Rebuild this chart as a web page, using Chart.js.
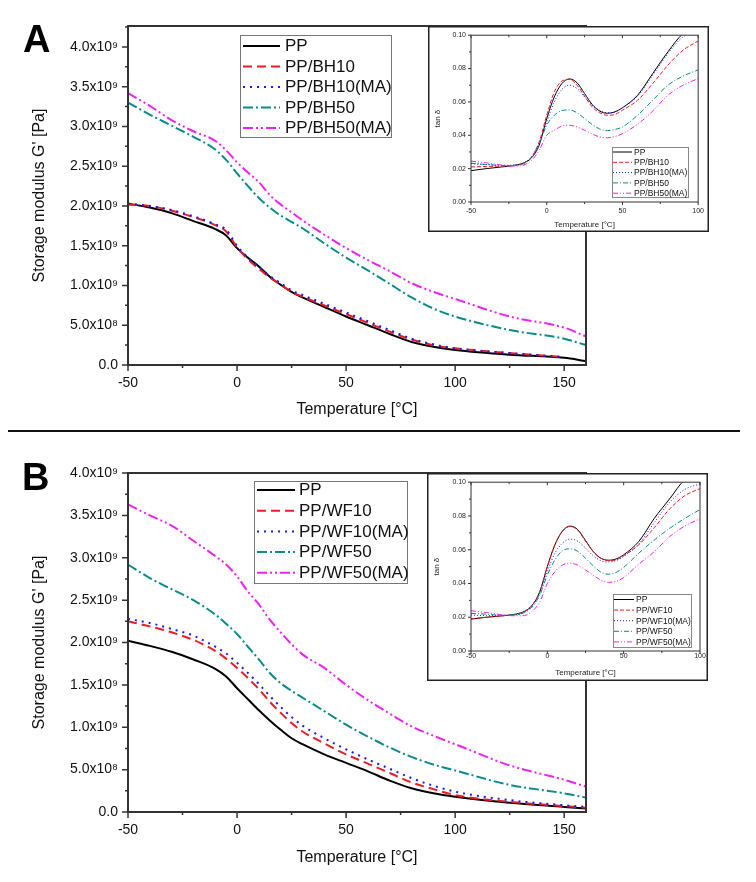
<!DOCTYPE html>
<html>
<head>
<meta charset="utf-8">
<script src="https://cdn.jsdelivr.net/npm/chart.js@4.4.1/dist/chart.umd.min.js"></script>
<style>
  body { margin: 0; background: #fff; }
  #page { position: relative; width: 756px; height: 882px; overflow: hidden; background: #fff; }
  canvas { position: absolute; }
  .panel-label { position: absolute; font: bold 38px Arial, "Liberation Sans", sans-serif; line-height: 38px; color: #000; }
  #divider { position: absolute; left: 8px; top: 430px; width: 732px; height: 2px; background: #111; }
</style>
</head>
<body>
<div id="page">
  <canvas id="mainA" width="756" height="430" style="left:0;top:0"></canvas>
  <canvas id="insetA" width="281" height="206" style="left:428px;top:26px"></canvas>
  <canvas id="mainB" width="756" height="442" style="left:0;top:440px"></canvas>
  <canvas id="insetB" width="281" height="208" style="left:427px;top:473px"></canvas>
  <div class="panel-label" style="left:23px;top:20px">A</div>
  <div class="panel-label" style="left:22px;top:458px">B</div>
  <div id="divider"></div>
</div>
<script>
// storage modulus G' (x10^9 Pa) vs temperature
const tempMain = [-50, -40, -30, -20, -10, -5, 0, 5, 10, 15, 20, 25, 30, 40, 50, 60, 70, 80, 90, 100, 125, 150, 160];

const modA_PP     = [2.03, 1.98, 1.91, 1.81, 1.71, 1.63, 1.47, 1.35, 1.24, 1.11, 1.01, 0.92, 0.85, 0.73, 0.61, 0.50, 0.39, 0.29, 0.23, 0.19, 0.13, 0.09, 0.05];
const modA_BH10   = [2.02, 2.00, 1.94, 1.86, 1.76, 1.68, 1.48, 1.33, 1.21, 1.10, 1.01, 0.92, 0.86, 0.75, 0.64, 0.53, 0.42, 0.32, 0.25, 0.21, 0.15, 0.10, null];
const modA_BH10MA = [2.03, 2.00, 1.95, 1.87, 1.77, 1.70, 1.50, 1.35, 1.23, 1.12, 1.03, 0.94, 0.88, 0.77, 0.66, 0.55, 0.44, 0.33, 0.26, 0.21, 0.15, 0.10, null];
const modA_BH50   = [3.30, 3.15, 3.01, 2.87, 2.71, 2.58, 2.41, 2.25, 2.10, 1.98, 1.88, 1.80, 1.72, 1.53, 1.35, 1.19, 1.02, 0.85, 0.71, 0.61, 0.44, 0.33, 0.25];
const modA_BH50MA = [3.42, 3.26, 3.08, 2.94, 2.82, 2.70, 2.55, 2.42, 2.30, 2.14, 2.02, 1.92, 1.82, 1.64, 1.47, 1.32, 1.18, 1.03, 0.92, 0.83, 0.61, 0.47, 0.36];

const modB_PP     = [2.02, 1.96, 1.89, 1.80, 1.69, 1.60, 1.46, 1.33, 1.20, 1.08, 0.97, 0.87, 0.80, 0.68, 0.58, 0.48, 0.37, 0.28, 0.22, 0.18, 0.11, 0.06, 0.04];
const modB_WF10   = [2.25, 2.19, 2.12, 2.03, 1.90, 1.81, 1.70, 1.58, 1.45, 1.30, 1.17, 1.05, 0.95, 0.81, 0.68, 0.57, 0.46, 0.35, 0.27, 0.20, 0.12, 0.07, 0.05];
const modB_WF10MA = [2.28, 2.23, 2.16, 2.08, 1.95, 1.87, 1.76, 1.64, 1.51, 1.37, 1.24, 1.12, 1.02, 0.87, 0.74, 0.62, 0.51, 0.40, 0.31, 0.24, 0.14, 0.08, 0.06];
const modB_WF50   = [2.92, 2.76, 2.63, 2.50, 2.33, 2.22, 2.10, 1.95, 1.80, 1.64, 1.52, 1.43, 1.35, 1.19, 1.03, 0.89, 0.76, 0.65, 0.56, 0.49, 0.32, 0.22, 0.17];
const modB_WF50MA = [3.63, 3.50, 3.38, 3.20, 3.02, 2.92, 2.78, 2.60, 2.45, 2.27, 2.12, 1.98, 1.86, 1.70, 1.50, 1.32, 1.16, 1.01, 0.90, 0.80, 0.55, 0.38, 0.30];

// tan delta insets
const tempInset = [-50, -40, -30, -20, -15, -10, -5, 0, 5, 10, 15, 20, 25, 30, 35, 40, 45, 50, 60, 70, 80, 90, 100];

const tanA_PP     = [0.0188, 0.0200, 0.0210, 0.0222, 0.0235, 0.0265, 0.0340, 0.0500, 0.0630, 0.0710, 0.0738, 0.0715, 0.0650, 0.0585, 0.0545, 0.0532, 0.0540, 0.0565, 0.0640, 0.0770, 0.0900, 0.1010, 0.1060];
const tanA_BH10   = [0.0210, 0.0213, 0.0215, 0.0220, 0.0235, 0.0270, 0.0360, 0.0520, 0.0660, 0.0725, 0.0735, 0.0700, 0.0635, 0.0570, 0.0535, 0.0520, 0.0525, 0.0550, 0.0610, 0.0710, 0.0820, 0.0910, 0.0965];
const tanA_BH10MA = [0.0230, 0.0225, 0.0220, 0.0222, 0.0235, 0.0270, 0.0350, 0.0480, 0.0600, 0.0675, 0.0700, 0.0680, 0.0630, 0.0580, 0.0550, 0.0535, 0.0540, 0.0565, 0.0635, 0.0760, 0.0890, 0.0990, 0.1030];
const tanA_BH50   = [0.0232, 0.0225, 0.0218, 0.0220, 0.0230, 0.0270, 0.0350, 0.0460, 0.0520, 0.0548, 0.0552, 0.0535, 0.0500, 0.0465, 0.0438, 0.0428, 0.0435, 0.0450, 0.0520, 0.0610, 0.0700, 0.0755, 0.0792];
const tanA_BH50MA = [0.0245, 0.0235, 0.0222, 0.0215, 0.0222, 0.0250, 0.0310, 0.0400, 0.0430, 0.0455, 0.0460, 0.0450, 0.0430, 0.0408, 0.0390, 0.0385, 0.0392, 0.0410, 0.0466, 0.0545, 0.0640, 0.0700, 0.0740];

const tanB_PP     = [0.0189, 0.0200, 0.0208, 0.0220, 0.0235, 0.0270, 0.0350, 0.0500, 0.0630, 0.0712, 0.0740, 0.0718, 0.0655, 0.0590, 0.0550, 0.0538, 0.0545, 0.0570, 0.0650, 0.0785, 0.0900, 0.1015, 0.1060];
const tanB_WF10   = [0.0190, 0.0200, 0.0208, 0.0218, 0.0233, 0.0270, 0.0350, 0.0500, 0.0630, 0.0710, 0.0738, 0.0715, 0.0650, 0.0590, 0.0550, 0.0535, 0.0540, 0.0565, 0.0630, 0.0730, 0.0840, 0.0920, 0.0962];
const tanB_WF10MA = [0.0213, 0.0210, 0.0210, 0.0215, 0.0230, 0.0270, 0.0340, 0.0470, 0.0580, 0.0640, 0.0663, 0.0650, 0.0610, 0.0565, 0.0535, 0.0528, 0.0535, 0.0560, 0.0635, 0.0760, 0.0880, 0.0957, 0.0990];
const tanB_WF50   = [0.0223, 0.0218, 0.0212, 0.0215, 0.0228, 0.0260, 0.0330, 0.0450, 0.0540, 0.0595, 0.0605, 0.0590, 0.0550, 0.0505, 0.0468, 0.0455, 0.0465, 0.0495, 0.0580, 0.0657, 0.0726, 0.0785, 0.0838];
const tanB_WF50MA = [0.0239, 0.0228, 0.0215, 0.0208, 0.0210, 0.0235, 0.0290, 0.0400, 0.0470, 0.0510, 0.0520, 0.0508, 0.0480, 0.0450, 0.0420, 0.0407, 0.0412, 0.0435, 0.0515, 0.0588, 0.0677, 0.0740, 0.0783];

const namesA = ['PP', 'PP/BH10', 'PP/BH10(MA)', 'PP/BH50', 'PP/BH50(MA)'];
const namesB = ['PP', 'PP/WF10', 'PP/WF10(MA)', 'PP/WF50', 'PP/WF50(MA)'];

const xTicksMain = [-50, 0, 50, 100, 150];
const yTicksMain = [0, 0.5, 1, 1.5, 2, 2.5, 3, 3.5, 4];
const xTicksInset = [-50, 0, 50, 100];
const yTicksInset = [0, 0.02, 0.04, 0.06, 0.08, 0.1];

const FONT = 'Arial, "Liberation Sans", sans-serif';
const colors = ['#000000', '#ee1c24', '#1c1cee', '#0b8a8a', '#ee22ee'];
const dashMain = [[], [9, 5], [2, 5], [10, 3, 2, 3], [10, 3, 2, 3, 2, 3]];
const dashInset = [[], [4, 2], [1, 2], [5, 2, 1, 2], [5, 2, 1, 2, 1, 2]];

Chart.defaults.font.family = FONT;
Chart.defaults.color = '#111';

function modulusLabel(v) {
    if (v === 0) return '0.0';
    if (v < 1) return (v * 10).toFixed(1) + 'x10⁸';
    return v.toFixed(1) + 'x10⁹';
}

function makeDatasets(names, temps, series, dashes, width) {
    return names.map((name, i) => ({
        label: name,
        data: temps.map((t, j) => ({ x: t, y: series[i][j] })),
        borderColor: colors[i],
        borderWidth: width,
        borderDash: dashes[i],
        pointRadius: 0,
        cubicInterpolationMode: 'monotone',
        order: names.length - i
    }));
}

// plot box, major/minor tick marks, optional white card with outline
const framePlugin = {
    id: 'frame',
    beforeDraw(chart, args, o) {
        if (!o.background) return;
        chart.ctx.save();
        chart.ctx.fillStyle = o.background;
        chart.ctx.fillRect(0, 0, chart.width, chart.height);
        chart.ctx.restore();
    },
    afterDraw(chart, args, o) {
        const { ctx, chartArea: a, scales: { x, y } } = chart;
        const isMajor = (s, v) => s.ticks.some(t => Math.abs(t.value - v) < 1e-9);
        ctx.save();
        ctx.strokeStyle = o.color;
        ctx.lineWidth = o.width;
        ctx.strokeRect(a.left, a.top, a.right - a.left, a.bottom - a.top);

        ctx.lineWidth = o.tickWidth;
        ctx.beginPath();
        for (let k = Math.ceil(x.min / o.minorX - 1e-9); k * o.minorX <= x.max + 1e-9; k++) {
            const v = k * o.minorX;
            const px = x.getPixelForValue(v);
            const len = isMajor(x, v) ? o.major : o.minor;
            ctx.moveTo(px, a.bottom);
            ctx.lineTo(px, a.bottom + len);
            if (o.topTicks) {
                ctx.moveTo(px, a.top);
                ctx.lineTo(px, a.top + len);
            }
        }
        for (let k = Math.ceil(y.min / o.minorY - 1e-9); k * o.minorY <= y.max + 1e-9; k++) {
            const v = k * o.minorY;
            const py = y.getPixelForValue(v);
            const len = isMajor(y, v) ? o.major : o.minor;
            ctx.moveTo(a.left, py);
            ctx.lineTo(a.left - len, py);
        }
        ctx.stroke();

        if (o.box) {
            ctx.lineWidth = o.boxWidth;
            ctx.strokeStyle = o.boxColor;
            ctx.strokeRect(o.boxWidth / 2, o.boxWidth / 2, chart.width - o.boxWidth, chart.height - o.boxWidth);
        }
        ctx.restore();
    }
};

// legend drawn inside the plot, in a framed box
const boxLegendPlugin = {
    id: 'boxLegend',
    afterDraw(chart, args, o) {
        const ctx = chart.ctx;
        ctx.save();
        ctx.fillStyle = '#fff';
        ctx.fillRect(o.x, o.y, o.w, o.h);
        ctx.strokeStyle = o.border;
        ctx.lineWidth = 1;
        ctx.strokeRect(o.x + 0.5, o.y + 0.5, o.w, o.h);
        ctx.font = o.font;
        ctx.textBaseline = 'middle';
        chart.data.datasets.forEach((ds, i) => {
            const ly = o.rowY + i * o.rowH;
            ctx.strokeStyle = ds.borderColor;
            ctx.lineWidth = ds.borderWidth;
            ctx.setLineDash(ds.borderDash);
            ctx.beginPath();
            ctx.moveTo(o.lineX0, ly);
            ctx.lineTo(o.lineX1, ly);
            ctx.stroke();
            ctx.setLineDash([]);
            ctx.fillStyle = '#111';
            ctx.fillText(ds.label, o.textX, ly + 0.5);
        });
        ctx.restore();
    }
};

function drawMain(id, names, series, cfg) {
    new Chart(document.getElementById(id), {
        type: 'line',
        data: { datasets: makeDatasets(names, tempMain, series, dashMain, 2) },
        options: {
            responsive: false,
            animation: false,
            events: [],
            layout: { padding: { left: 0, right: 170, top: cfg.top, bottom: 0 } },
            plugins: {
                legend: { display: false },
                tooltip: { enabled: false },
                frame: { color: '#333', width: 2, tickWidth: 1.5, major: 6, minor: 3, minorX: 25, minorY: 0.25 },
                boxLegend: cfg.legend
            },
            scales: {
                x: {
                    type: 'linear', min: -50, max: 160,
                    afterBuildTicks: s => { s.ticks = xTicksMain.map(v => ({ value: v })); },
                    afterFit: s => { s.height = cfg.xAxisH; },
                    grid: { display: false, drawTicks: false },
                    border: { display: false },
                    ticks: { autoSkip: false, maxRotation: 0, padding: 10, color: '#111', font: { size: 14 } },
                    title: { display: true, text: 'Temperature [°C]', color: '#111', font: { size: 16 }, padding: { top: 0, bottom: cfg.xTitlePad } }
                },
                y: {
                    type: 'linear', min: 0, max: cfg.yMax,
                    afterBuildTicks: s => { s.ticks = yTicksMain.map(v => ({ value: v })); },
                    afterFit: s => { s.width = 128; },
                    grid: { display: false, drawTicks: false },
                    border: { display: false },
                    ticks: { autoSkip: false, padding: 10, color: '#111', font: { size: 14 }, callback: modulusLabel },
                    title: { display: true, text: "Storage modulus G' [Pa]", color: '#111', font: { size: 16 }, padding: { top: 30, bottom: 0 } }
                }
            }
        },
        plugins: [framePlugin, boxLegendPlugin]
    });
}

function drawInset(id, names, series, cfg) {
    new Chart(document.getElementById(id), {
        type: 'line',
        data: { datasets: makeDatasets(names, tempInset, series, dashInset, 1) },
        options: {
            responsive: false,
            animation: false,
            events: [],
            layout: { padding: { left: 0, right: cfg.right, top: cfg.top, bottom: 0 } },
            plugins: {
                legend: { display: false },
                tooltip: { enabled: false },
                frame: {
                    color: '#333', width: 1, tickWidth: 1, major: 3, minor: 2, minorX: 25, minorY: 0.01,
                    topTicks: true, background: '#fff', box: true, boxColor: '#222', boxWidth: 1.5
                },
                boxLegend: cfg.legend
            },
            scales: {
                x: {
                    type: 'linear', min: -50, max: 100,
                    afterBuildTicks: s => { s.ticks = xTicksInset.map(v => ({ value: v })); },
                    afterFit: s => { s.height = cfg.xAxisH; },
                    grid: { display: false, drawTicks: false },
                    border: { display: false },
                    ticks: { autoSkip: false, maxRotation: 0, padding: cfg.xTickPad, color: '#222', font: { size: 7 } },
                    title: { display: true, text: 'Temperature [°C]', color: '#222', font: { size: 8 }, padding: { top: 0, bottom: cfg.xTitlePad } }
                },
                y: {
                    type: 'linear', min: 0, max: 0.1,
                    afterBuildTicks: s => { s.ticks = yTicksInset.map(v => ({ value: v })); },
                    afterFit: s => { s.width = cfg.left; },
                    grid: { display: false, drawTicks: false },
                    border: { display: false },
                    ticks: { autoSkip: false, padding: 5, color: '#222', font: { size: 7 }, callback: v => v.toFixed(2) },
                    title: { display: true, text: 'tan δ', color: '#222', font: { size: 8 }, padding: { top: 5, bottom: 0 } }
                }
            }
        },
        plugins: [framePlugin, boxLegendPlugin]
    });
}

drawMain('mainA', namesA, [modA_PP, modA_BH10, modA_BH10MA, modA_BH50, modA_BH50MA], {
    top: 26, xAxisH: 65, xTitlePad: 11, yMax: 4.264,
    legend: { x: 240, y: 35, w: 151, h: 102, rowY: 46, rowH: 20.5, lineX0: 243, lineX1: 280, textX: 285, font: '17px ' + FONT, border: '#777' }
});

drawMain('mainB', namesB, [modB_PP, modB_WF10, modB_WF10MA, modB_WF50, modB_WF50MA], {
    top: 33, xAxisH: 70, xTitlePad: 15, yMax: 4.0,
    legend: { x: 254, y: 41, w: 153, h: 102, rowY: 50, rowH: 20.7, lineX0: 257, lineX1: 295, textX: 299, font: '17px ' + FONT, border: '#777' }
});

drawInset('insetA', namesA, [tanA_PP, tanA_BH10, tanA_BH10MA, tanA_BH50, tanA_BH50MA], {
    left: 43, right: 9, top: 7, xAxisH: 30, xTickPad: 5, xTitlePad: 2,
    legend: { x: 184, y: 121, w: 76, h: 50, rowY: 126, rowH: 10.3, lineX0: 185, lineX1: 204, textX: 206, font: '8.5px ' + FONT, border: '#888' }
});

drawInset('insetB', namesB, [tanB_PP, tanB_WF10, tanB_WF10MA, tanB_WF50, tanB_WF50MA], {
    left: 44, right: 8, top: 9, xAxisH: 30, xTickPad: 1, xTitlePad: 3,
    legend: { x: 186, y: 121, w: 78, h: 53, rowY: 126.5, rowH: 10.6, lineX0: 187, lineX1: 207, textX: 209, font: '8.5px ' + FONT, border: '#888' }
});
</script>
</body>
</html>
